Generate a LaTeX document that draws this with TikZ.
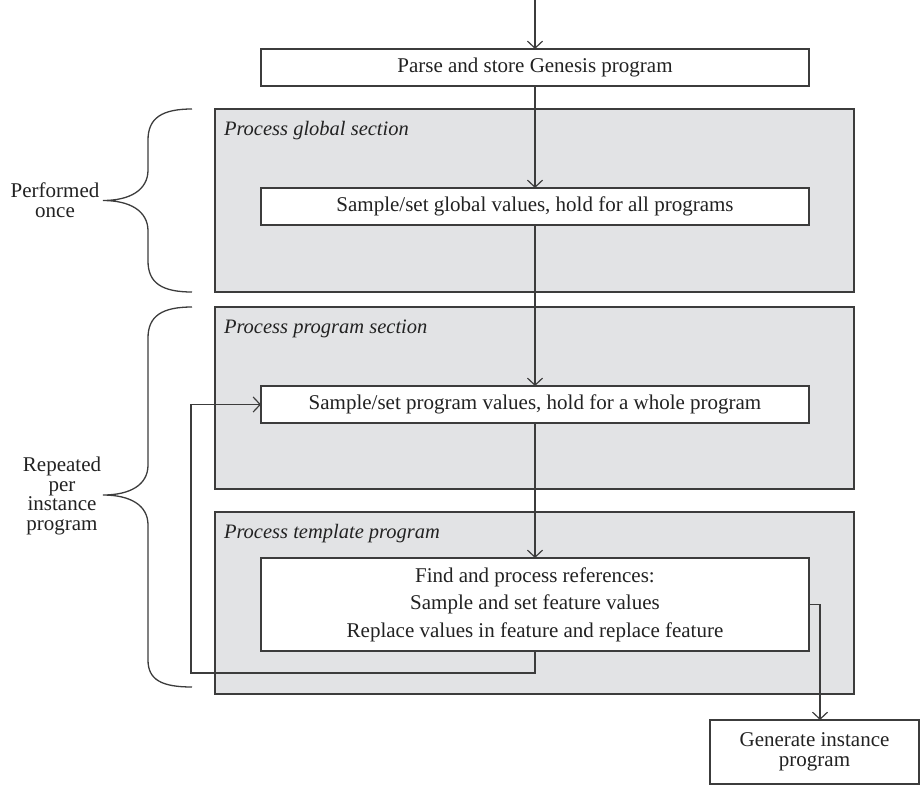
\documentclass[tikz,border=0pt]{standalone}
\usepackage{fontspec}
\setmainfont{Liberation Serif}
\usetikzlibrary{arrows.meta,calc}
\definecolor{linec}{HTML}{3C3C3C}
\definecolor{grayfill}{HTML}{E2E3E5}
\definecolor{textc}{HTML}{222222}
\begin{document}
\begin{tikzpicture}[x=1pt,y=-1pt,
  every node/.style={text=textc, inner sep=0pt, outer sep=0pt},
  ln/.style={draw=linec, line width=1.3pt},
  arr/.style={ln, -{Straight Barb[length=7pt,width=15pt,line width=1.2pt]}},
  whitebox/.style={ln, fill=white, rectangle, minimum width=548pt, font=\fontsize{21}{27.5}\selectfont, align=center},
  graybox/.style={ln, fill=grayfill, rectangle, minimum width=639pt},
  title/.style={anchor=base west, font=\fontsize{20.5}{24}\selectfont\itshape},
  bracelabel/.style={align=center, font=\fontsize{21}{19.5}\selectfont},
  brace/.style={draw=linec, line width=1.3pt}
]
\useasboundingbox (0,0) rectangle (920,784);

% section backgrounds
\node[graybox, minimum height=183pt] (gsec) at (534.5,200.5) {};
\node[graybox, minimum height=182pt] (psec) at (534.5,398) {};
\node[graybox, minimum height=182pt] (tsec) at (534.5,603) {};

\node[title] (gtitle) at (224,135) {Process global section};
\node[title] (ptitle) at (224,333) {Process program section};
\node[title] (ttitle) at (224,538) {Process template program};

% process boxes
\node[whitebox, minimum height=37pt] (parse) at (535,67.5) {Parse and store Genesis program};
\node[whitebox, minimum height=37pt] (glob) at (535,206.5) {Sample/set global values, hold for all programs};
\node[whitebox, minimum height=37pt] (prog) at (535,404.5) {Sample/set program values, hold for a whole program};
\node[whitebox, minimum height=93pt] (tmpl) at (535,604.5) {Find and process references:\\Sample and set feature values\\Replace values in feature and replace feature};
\node[ln, fill=white, rectangle, minimum width=209pt, minimum height=64pt, align=center,
      font=\fontsize{21}{19.5}\selectfont] (gen) at (814.5,752) {Generate instance\\program};

% connectors
\coordinate (start) at (535,0);
\coordinate (loopc) at (191,404.5);
\coordinate (outc) at (820,0);
\draw[arr] (start) -- (parse.north);
\draw[arr] (parse.south) -- (glob.north);
\draw[arr] (glob.south) -- (prog.north);
\draw[arr] (prog.south) -- (tmpl.north);
\draw[arr] (tmpl.south) -- ++(0,22) -| (loopc) -- (prog.west);
\draw[arr] (tmpl.east) -| (outc |- gen.north);

% braces
\draw[brace] (192,109) .. controls (162,109) and (148,118) .. (148,140) -- (148,170)
  .. controls (148,190) and (130,200.5) .. (103,200.5)
  .. controls (130,200.5) and (148,211) .. (148,231) -- (148,261)
  .. controls (148,283) and (162,292) .. (192,292);
\draw[brace] (192,307) .. controls (162,307) and (148,316) .. (148,338) -- (148,465)
  .. controls (148,485) and (130,495) .. (103,495)
  .. controls (130,495) and (148,505) .. (148,525) -- (148,660)
  .. controls (148,680) and (162,687) .. (192,687);

\node[bracelabel] (once) at (55,200) {Performed\\once};
\node[bracelabel] (rep) at (62,496) {Repeated\\per\\instance\\program};
\end{tikzpicture}
\end{document}
